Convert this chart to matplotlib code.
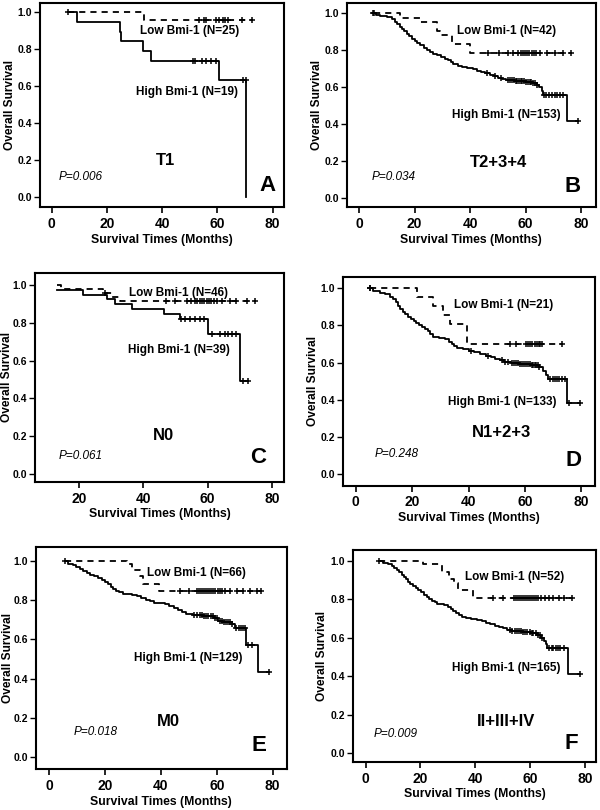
import matplotlib
matplotlib.use("Agg")
import matplotlib.pyplot as plt
import numpy as np

plt.rcParams['font.family'] = ['Liberation Sans', 'DejaVu Sans']

# ---- data: step times (months) and survival after each step ----
# A: T1
a_low_t = [6.0, 33.4, 72.4]
a_low_s = [1.0, 0.96, 0.96]
a_low_cens = [6.0, 53.3, 55.2, 56.0, 59.5, 60.4, 62.0, 62.8, 64.0, 69.0, 72.4]
a_high_t = [6.0, 9.3, 24.7, 25.2, 33.2, 36.0, 60.5, 70.5]
a_high_s = [1.0, 0.947, 0.895, 0.842, 0.789, 0.737, 0.632, 0.0]
a_high_cens = [51.0, 51.9, 54.3, 55.9, 57.6, 59.5, 69.4, 70.2]

# B: T2+3+4
b_low_t = [5.3, 14.7, 21.9, 27.9, 29.1, 33.3, 39.9, 76.3]
b_low_s = [1.0, 0.976, 0.952, 0.905, 0.881, 0.833, 0.786, 0.786]
b_low_cens = [5.3, 46.6, 50.5, 53.5, 55.6, 57.4, 58.2, 59.0, 59.8, 60.6, 61.4,
              62.2, 63.0, 63.8, 65.2, 67.6, 70.6, 73.6, 76.3]
b_high_t = [5.1, 6.0, 7.5, 10.0, 12.0, 13.0, 13.8, 14.6, 15.5, 16.3, 17.2, 18.0,
            19.0, 20.0, 21.0, 22.0, 23.5, 24.5, 25.5, 26.5, 28.0, 29.5, 31.0,
            32.0, 33.0, 34.0, 35.5, 37.0, 39.0, 41.0, 42.5, 44.0, 45.5, 47.0,
            48.5, 50.0, 51.5, 53.0, 56.0, 60.0, 62.5, 64.0, 65.0, 65.8, 66.2,
            74.8, 79.0]
b_high_s = [1.0, 0.993, 0.987, 0.980, 0.967, 0.954, 0.941, 0.928, 0.915, 0.902,
            0.889, 0.876, 0.863, 0.850, 0.837, 0.826, 0.813, 0.800, 0.789, 0.778,
            0.772, 0.765, 0.755, 0.745, 0.735, 0.726, 0.717, 0.710, 0.703, 0.697,
            0.690, 0.683, 0.675, 0.668, 0.660, 0.652, 0.645, 0.639, 0.633, 0.628,
            0.622, 0.613, 0.600, 0.580, 0.555, 0.414, 0.414]
b_high_cens = [5.1, 46.0, 49.0, 51.0, 53.5, 54.5, 55.0, 55.8, 56.5, 57.0, 57.6,
               58.2, 58.8, 59.5, 60.2, 60.8, 61.5, 62.0, 62.8, 63.4, 64.0, 66.8,
               67.5, 68.5, 69.5, 70.5, 71.5, 72.5, 73.5, 79.0]

# C: N0
c_low_t = [13.0, 14.5, 27.6, 30.2, 32.8, 75.0]
c_low_s = [1.0, 0.978, 0.957, 0.935, 0.913, 0.913]
c_low_cens = [28.0, 47.0, 50.0, 53.5, 55.0, 56.0, 56.8, 57.5, 58.2, 59.0, 59.8,
              60.5, 61.2, 62.0, 63.0, 64.4, 67.0, 69.0, 72.2, 74.8]
c_high_t = [13.0, 21.3, 28.6, 31.2, 36.4, 46.3, 51.5, 60.3, 70.1, 72.7]
c_high_s = [0.974, 0.949, 0.923, 0.897, 0.872, 0.846, 0.820, 0.738, 0.492, 0.492]
c_high_cens = [51.8, 53.0, 54.5, 56.0, 57.5, 59.0, 61.5, 64.0, 65.5, 66.5, 67.5,
               69.0, 71.0, 72.7]

# D: N1+2+3
d_low_t = [5.2, 21.6, 27.5, 31.0, 33.4, 39.3, 73.1]
d_low_s = [1.0, 0.952, 0.905, 0.857, 0.810, 0.702, 0.702]
d_low_cens = [5.2, 54.8, 56.9, 60.4, 61.0, 61.6, 62.5, 63.6, 64.2, 64.8, 65.4,
              66.0, 73.1]
d_high_t = [5.2, 6.0, 8.5, 10.5, 12.0, 13.2, 14.2, 15.0, 15.8, 16.6, 17.5, 18.5,
            19.5, 20.5, 21.5, 22.5, 23.5, 24.5, 25.5, 26.5, 27.5, 29.5, 31.5,
            33.0, 34.0, 35.0, 36.0, 38.0, 40.0, 42.0, 44.0, 46.0, 48.0, 49.5,
            51.0, 52.5, 55.0, 58.0, 62.0, 65.0, 66.5, 67.5, 68.0, 74.9, 79.6]
d_high_s = [1.0, 0.985, 0.977, 0.970, 0.955, 0.940, 0.925, 0.905, 0.890, 0.875,
            0.862, 0.848, 0.837, 0.826, 0.815, 0.803, 0.792, 0.780, 0.770, 0.752,
            0.740, 0.733, 0.725, 0.712, 0.700, 0.690, 0.680, 0.672, 0.665, 0.657,
            0.647, 0.638, 0.628, 0.620, 0.612, 0.604, 0.597, 0.592, 0.585, 0.575,
            0.555, 0.535, 0.515, 0.384, 0.384]
d_high_cens = [5.2, 41.0, 47.0, 52.0, 53.0, 54.0, 55.5, 56.0, 56.8, 57.5, 58.2,
               59.0, 59.8, 60.5, 61.0, 61.6, 62.5, 63.0, 63.5, 64.0, 64.5, 65.0,
               69.0, 69.8, 70.6, 71.4, 72.2, 73.0, 74.0, 75.6, 79.6]

# E: M0
e_low_t = [5.7, 27.8, 29.5, 32.5, 33.5, 39.3, 75.7]
e_low_s = [1.0, 0.985, 0.955, 0.924, 0.879, 0.848, 0.848]
e_low_cens = [5.7, 46.9, 50.2, 52.8, 53.5, 54.3, 55.0, 55.8, 56.5, 57.3, 58.0,
              58.8, 59.5, 60.3, 61.0, 62.0, 63.0, 64.7, 67.1, 69.3, 71.9, 74.3, 75.7]
e_high_t = [5.7, 6.9, 8.5, 9.5, 11.0, 12.0, 13.5, 14.8, 16.0, 17.5, 19.0, 20.0,
            21.0, 22.0, 23.0, 24.0, 25.0, 26.5, 29.5, 31.5, 33.0, 34.5, 36.0,
            37.5, 41.5, 43.0, 44.5, 46.0, 47.5, 49.0, 51.5, 55.0, 59.0, 60.5,
            62.0, 65.5, 66.5, 70.6, 74.9, 78.5]
e_high_s = [1.0, 0.985, 0.978, 0.968, 0.958, 0.948, 0.937, 0.927, 0.920, 0.912,
            0.903, 0.893, 0.880, 0.868, 0.858, 0.848, 0.840, 0.832, 0.826, 0.818,
            0.810, 0.802, 0.793, 0.785, 0.780, 0.770, 0.760, 0.750, 0.738, 0.728,
            0.723, 0.718, 0.708, 0.695, 0.688, 0.676, 0.658, 0.572, 0.431, 0.431]
e_high_cens = [52.0, 53.0, 54.0, 54.8, 55.5, 56.2, 57.0, 57.8, 58.5, 59.3, 60.0,
               61.0, 61.8, 62.5, 63.2, 64.0, 64.8, 65.5, 67.0, 67.8, 68.5, 69.3,
               70.0, 71.2, 72.5, 78.5]

# F: II+III+IV
f_low_t = [4.9, 21.0, 27.7, 30.4, 32.4, 33.8, 39.0, 75.1]
f_low_s = [1.0, 0.981, 0.942, 0.904, 0.885, 0.846, 0.808, 0.808]
f_low_cens = [4.9, 46.6, 50.2, 54.0, 54.8, 55.5, 56.2, 57.0, 57.8, 58.5, 59.3,
              60.0, 60.8, 61.5, 62.3, 63.0, 64.0, 65.5, 67.0, 68.5, 70.5, 72.5, 75.1]
f_high_t = [4.9, 6.4, 8.0, 9.5, 10.5, 11.5, 12.3, 13.1, 13.9, 14.7, 15.5, 16.3,
            17.2, 18.2, 19.2, 20.2, 21.2, 22.2, 23.2, 24.2, 25.2, 26.2, 28.5,
            30.0, 31.0, 32.0, 33.0, 34.0, 35.0, 36.5, 38.5, 40.5, 42.5, 44.0,
            45.5, 47.0, 48.5, 50.0, 51.5, 53.5, 57.0, 60.0, 62.5, 64.0, 65.0,
            65.8, 66.2, 73.9, 78.2]
f_high_s = [1.0, 0.990, 0.983, 0.972, 0.962, 0.950, 0.940, 0.928, 0.915, 0.903,
            0.892, 0.880, 0.868, 0.857, 0.848, 0.836, 0.824, 0.812, 0.802, 0.793,
            0.783, 0.775, 0.768, 0.760, 0.750, 0.740, 0.730, 0.720, 0.710, 0.703,
            0.697, 0.690, 0.684, 0.677, 0.670, 0.663, 0.655, 0.648, 0.641, 0.636,
            0.631, 0.624, 0.614, 0.600, 0.585, 0.565, 0.548, 0.410, 0.410]
f_high_cens = [52.5, 53.5, 54.5, 55.3, 56.0, 56.8, 57.5, 58.2, 59.0, 59.8, 60.5,
               61.2, 62.0, 62.8, 63.5, 64.2, 67.0, 67.8, 68.5, 69.3, 70.0, 71.0,
               72.5, 78.2]

group_names = ["T1", "T2+3+4", "N0", "N1+2+3", "M0", "II+III+IV"]
panel_letters = ["A", "B", "C", "D", "E", "F"]
p_values = ["P=0.006", "P=0.034", "P=0.061", "P=0.248", "P=0.018", "P=0.009"]
n_low = [25, 42, 46, 21, 66, 52]
n_high = [19, 153, 39, 133, 129, 165]

# ---- layout: frame box in pixels (left, right, top, bottom), axis limits, text spots ----
W, H = 600, 810
panels = [
    dict(box=(40, 284, 3, 207), xlim=(-4.2, 84.1), ylim=(-0.056, 1.05), xt=[0, 20, 40, 60, 80], ylx=30,
         low=(a_low_t, a_low_s, a_low_cens), high=(a_high_t, a_high_s, a_high_cens),
         lowtxt=(49.8, 0.90), hightxt=(49.1, 0.57), grp=(41.3, 0.195), p=(10.5, 0.108), let=(78.2, 0.063)),
    dict(box=(346.7, 596, 3.3, 207), xlim=(-4.5, 85.4), ylim=(-0.049, 1.054), xt=[0, 20, 40, 60, 80], ylx=30,
         low=(b_low_t, b_low_s, b_low_cens), high=(b_high_t, b_high_s, b_high_cens),
         lowtxt=(53.2, 0.906), hightxt=(53.2, 0.45), grp=(50.4, 0.193), p=(12.3, 0.114), let=(77.0, 0.063)),
    dict(box=(35, 284, 273, 482), xlim=(6.3, 83.8), ylim=(-0.042, 1.063), xt=[20, 40, 60, 80], ylx=28,
         low=(c_low_t, c_low_s, c_low_cens), high=(c_high_t, c_high_s, c_high_cens),
         lowtxt=(51.1, 0.959), hightxt=(51.1, 0.656), grp=(46.3, 0.203), p=(20.6, 0.097), let=(75.9, 0.088)),
    dict(box=(342.7, 595, 277.3, 485.7), xlim=(-4.6, 84.8), ylim=(-0.061, 1.059), xt=[0, 20, 40, 60, 80], ylx=30,
         low=(d_low_t, d_low_s, d_low_cens), high=(d_high_t, d_high_s, d_high_cens),
         lowtxt=(52.4, 0.911), hightxt=(52.1, 0.3875), grp=(51.8, 0.223), p=(14.5, 0.111), let=(77.3, 0.077)),
    dict(box=(35.7, 287, 547, 769), xlim=(-4.8, 85.1), ylim=(-0.061, 1.07), xt=[0, 20, 40, 60, 80], ylx=28,
         low=(e_low_t, e_low_s, e_low_cens), high=(e_high_t, e_high_s, e_high_cens),
         lowtxt=(52.6, 0.937), hightxt=(49.8, 0.504), grp=(42.7, 0.182), p=(16.5, 0.127), let=(74.9, 0.059)),
    dict(box=(353, 596, 550, 762), xlim=(-4.6, 84.0), ylim=(-0.047, 1.056), xt=[0, 20, 40, 60, 80], ylx=31,
         low=(f_low_t, f_low_s, f_low_cens), high=(f_high_t, f_high_s, f_high_cens),
         lowtxt=(54.5, 0.913), hightxt=(51.4, 0.441), grp=(51.1, 0.164), p=(10.9, 0.10), let=(75.1, 0.047)),
]


def censor_y(t, s, c):
    # survival level in force at each censoring time
    idx = np.searchsorted(t, c, side='right') - 1
    return np.asarray(s)[np.clip(idx, 0, len(s) - 1)]


fig = plt.figure(figsize=(W / 100, H / 100), dpi=100)

for i, pn in enumerate(panels):
    l, r, t, b = pn['box']
    ax = fig.add_axes([l / W, 1 - b / H, (r - l) / W, (b - t) / H])

    for (tt, ss, cc), ls in [(pn['high'], '-'), (pn['low'], (0, (3.4, 2.8)))]:
        ax.step(tt, ss, where='post', color='black', lw=1.3, linestyle=ls)
        ax.plot(cc, censor_y(tt, ss, cc), '+', color='black', ms=4.5, mew=1.1)

    ax.set_xlim(*pn['xlim'])
    ax.set_ylim(*pn['ylim'])
    ax.set_xticks(pn['xt'])
    ax.set_yticks([0.0, 0.2, 0.4, 0.6, 0.8, 1.0])
    ax.set_yticklabels([f"{v:.1f}" for v in [0.0, 0.2, 0.4, 0.6, 0.8, 1.0]])
    ax.tick_params(axis='x', direction='out', length=4, width=1.2, pad=3,
                   labelsize=10, top=False)
    ax.tick_params(axis='y', direction='out', length=4, width=1.0, pad=1.5,
                   labelsize=7.5, right=False)
    for lab in ax.get_xticklabels() + ax.get_yticklabels():
        lab.set_fontweight('bold')
    for sp in ax.spines.values():
        sp.set_linewidth(1.5)

    ax.set_xlabel("Survival Times (Months)", fontsize=8.8, fontweight='bold', labelpad=2)
    ax.set_ylabel("Overall Survival", fontsize=8.6, fontweight='bold', va='center')
    ax.yaxis.set_label_coords(-pn['ylx'] / (r - l), 0.5)

    ax.text(*pn['lowtxt'], f"Low Bmi-1 (N={n_low[i]})", ha='center', va='center',
            fontsize=8.5, fontweight='bold')
    ax.text(*pn['hightxt'], f"High Bmi-1 (N={n_high[i]})", ha='center', va='center',
            fontsize=8.5, fontweight='bold')
    ax.text(*pn['grp'], group_names[i], ha='center', va='center', fontsize=12, fontweight='bold')
    ax.text(*pn['p'], p_values[i], ha='center', va='center', fontsize=8.5, style='italic')
    ax.text(*pn['let'], panel_letters[i], ha='center', va='center', fontsize=16, fontweight='bold')

fig.savefig("out.png", dpi=100)
